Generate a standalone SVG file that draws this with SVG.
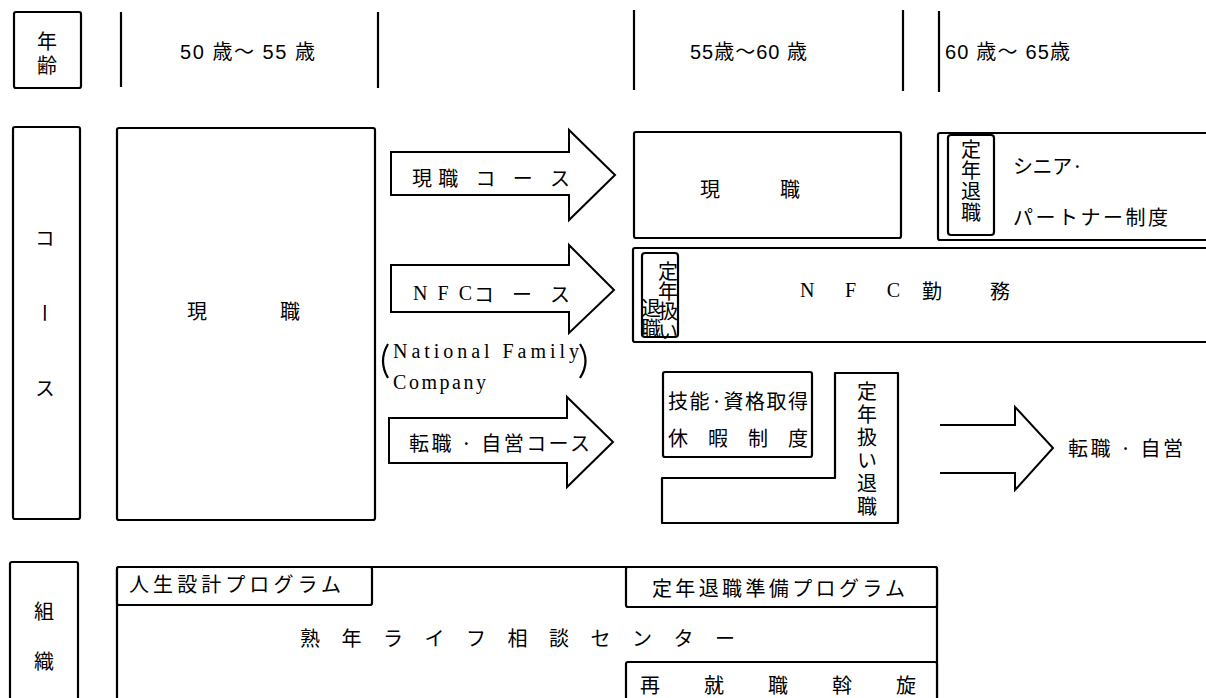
<svg xmlns="http://www.w3.org/2000/svg" width="1206" height="698" viewBox="0 0 1206 698">
<style>
.b{fill:#fff;stroke:#000;stroke-width:2.2}
.l{stroke:#000;stroke-width:2.2;fill:none}
.a{fill:#fff;stroke:#000;stroke-width:2;stroke-linejoin:miter}
.j{font-family:"Noto Sans CJK JP","Noto Sans",sans-serif;font-size:20px;fill:#000;dominant-baseline:central}
.v{font-family:"Noto Sans CJK JP","Noto Sans",sans-serif;font-size:20px;fill:#000;writing-mode:vertical-rl}
.s{font-family:"Liberation Serif","DejaVu Serif",serif;font-size:20px;fill:#000;dominant-baseline:central}
.n{font-family:"Liberation Sans","Noto Sans CJK JP",sans-serif;font-size:20px;fill:#000;dominant-baseline:central}
.m{text-anchor:middle}
</style>
<rect width="1206" height="698" fill="#fff"/>

<g id="age-header">
  <rect class="b" x="14" y="12" width="67" height="76" rx="2"/>
  <text class="v" x="47" y="31" font-size="21" letter-spacing="4">年齢</text>
  <line class="l" x1="121" y1="12" x2="121" y2="87"/>
  <line class="l" x1="378" y1="12" x2="378" y2="88"/>
  <line class="l" x1="634" y1="10" x2="634" y2="90"/>
  <line class="l" x1="903" y1="10" x2="903" y2="91"/>
  <line class="l" x1="939" y1="11" x2="939" y2="92"/>
  <text class="n" x="180" y="52" textLength="135" lengthAdjust="spacing">50 歳〜 55 歳</text>
  <text class="n" x="690" y="52" textLength="117" lengthAdjust="spacing">55歳〜60 歳</text>
  <text class="n" x="945" y="52" textLength="125" lengthAdjust="spacing">60 歳〜 65歳</text>
</g>

<g id="course-label">
  <rect class="b" x="13" y="127" width="67" height="392" rx="2"/>
  <text class="v" x="45" y="228" font-size="18" letter-spacing="55">コース</text>
</g>

<g id="current-job-50">
  <rect class="b" x="117" y="128" width="258" height="392" rx="2"/>
  <text class="j m" x="197" y="310">現</text>
  <text class="j m" x="290" y="310">職</text>
</g>

<g id="connectors">
  <path class="a" d="M391,152 H569 V130 L615,175 L569,220 V195 H391 Z"/>
  <path class="a" d="M391,265 H569 V245 L614,290 L569,333 V312 H391 Z"/>
  <path class="a" d="M389,418 H567 V397 L613,442 L567,487 V463 H389 Z"/>
  <path class="a" d="M940,425 H1015 V407 L1053,448 L1015,490 V473 H940" fill="none"/>
</g>

<g id="arrow-labels">
  <text class="j" x="412" y="177" textLength="158" lengthAdjust="spacing">現職 コ ー ス</text>
  <text class="s" x="413" y="293" font-size="21" textLength="59" lengthAdjust="spacing">NFC</text>
  <text class="j" x="474" y="293" textLength="96" lengthAdjust="spacing">コ ー ス</text>
  <text class="j" x="409" y="442" textLength="181" lengthAdjust="spacing">転職 · 自営コース</text>
</g>

<g id="nfc-note">
  <path class="l" stroke-width="1.6" d="M388,344 Q378,361 388,378"/>
  <path class="l" stroke-width="1.6" d="M580,344 Q591,361 580,378"/>
  <text class="s" x="393" y="351" font-size="20" textLength="186" lengthAdjust="spacing">National Family</text>
  <text class="s" x="393" y="382" font-size="20" textLength="93" lengthAdjust="spacing">Company</text>
</g>

<g id="current-job-55">
  <rect class="b" x="634" y="132" width="267" height="106" rx="2"/>
  <text class="j m" x="710" y="188">現</text>
  <text class="j m" x="790" y="188">職</text>
</g>

<g id="senior-partner">
  <rect class="b" x="938" y="133" width="280" height="107" rx="2"/>
  <rect class="b" x="948" y="135" width="46" height="100" rx="3"/>
  <text class="v" x="971" y="139" font-size="22" letter-spacing="1">定年退職</text>
  <text class="j" x="1013" y="165" font-size="18" textLength="70" lengthAdjust="spacing">シ ニ ア ·</text>
  <text class="j" x="1013" y="216" font-size="19" textLength="155" lengthAdjust="spacing">パートナー制度</text>
</g>

<g id="nfc-work">
  <rect class="b" x="633" y="248" width="585" height="94" rx="2"/>
  <rect class="b" x="642" y="253" width="36" height="84" rx="3"/>
  <text class="v" x="668" y="261" font-size="17" letter-spacing="0">定年扱い</text>
  <text class="v" x="651" y="298" font-size="17" letter-spacing="0">退職</text>
  <text class="s" x="800" y="290" textLength="100" lengthAdjust="spacing">N  F  C</text>
  <text class="j" x="922" y="290" textLength="88" lengthAdjust="spacing">勤 務</text>
</g>

<g id="skill-leave">
  <rect class="b" x="663" y="372" width="149" height="85" rx="2"/>
  <text class="j" x="668" y="400" textLength="140" lengthAdjust="spacing">技能·資格取得</text>
  <text class="j" x="668" y="437" textLength="140" lengthAdjust="spacing">休 暇 制 度</text>
</g>

<g id="early-retire">
  <path class="b" d="M835,373 H898 V523 H662 V478 H835 Z" stroke-linejoin="round"/>
  <text class="v" x="867" y="381" font-size="21" letter-spacing="3">定年扱い退職</text>
</g>

<g id="job-change">
  <text class="j" x="1068" y="447" font-size="19" textLength="115" lengthAdjust="spacing">転職 · 自営</text>
</g>

<g id="org-label">
  <rect class="b" x="10" y="562" width="68" height="150" rx="2"/>
  <text class="j m" x="44" y="610" font-size="19">組</text>
  <text class="j m" x="44" y="660" font-size="19">織</text>
</g>

<g id="counseling-center">
  <rect class="b" x="117" y="567" width="820" height="150" rx="2"/>
  <text class="j" x="300" y="637" font-size="19" textLength="435" lengthAdjust="spacing">熟 年 ラ イ フ 相 談 セ ン タ ー</text>
</g>

<g id="life-plan">
  <rect class="b" x="117" y="567" width="255" height="38" rx="2"/>
  <text class="j" x="129" y="583" font-size="19" textLength="212" lengthAdjust="spacing">人生設計プログラム</text>
</g>

<g id="retire-prep">
  <rect class="b" x="626" y="567" width="311" height="40" rx="2"/>
  <text class="j" x="652" y="587" font-size="19" textLength="253" lengthAdjust="spacing">定年退職準備プログラム</text>
</g>

<g id="reemployment">
  <rect class="b" x="626" y="662" width="311" height="60" rx="2"/>
  <text class="j" x="640" y="684" font-size="20" textLength="276" lengthAdjust="spacing">再 就 職 斡 旋</text>
</g>
</svg>
